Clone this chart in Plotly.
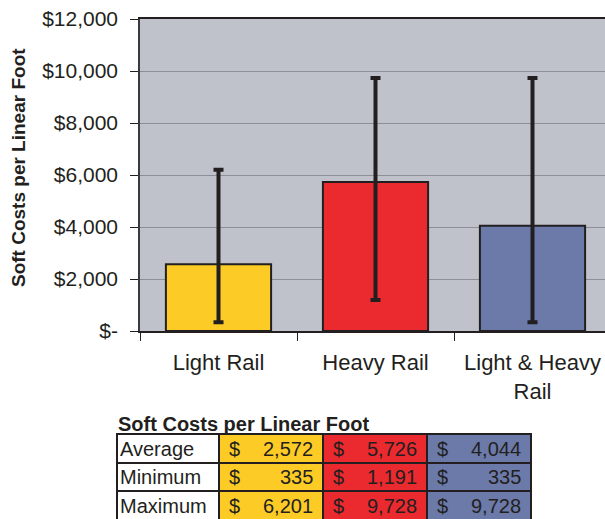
import plotly.graph_objects as go

# Data
categories = ["Light Rail", "Heavy Rail", "Light & Heavy<br>Rail"]
average = [2572, 5726, 4044]
minimum = [335, 1191, 335]
maximum = [6201, 9728, 9728]
bar_colors = ["#fdcb25", "#ea2a2f", "#6b7aa9"]

tick_vals = [0, 2000, 4000, 6000, 8000, 10000, 12000]
tick_text = ["$-", "$2,000", "$4,000", "$6,000", "$8,000", "$10,000", "$12,000"]

row_labels = ["Average", "Minimum", "Maximum"]
table_title = "Soft Costs per Linear Foot"
axis_title = "Soft Costs per Linear Foot"

# figure is a bit wider/taller than the window so the plot and table get cut
# off at the edges, like the original
W, H = 625, 530
PLOT_L, PLOT_R, PLOT_T, PLOT_B = 140, 625, 19, 331
CAT_W = 157  # px per category
DARK = "#231f20"
FONT = "Liberation Sans, Arial, sans-serif"


def px_x(x):
    # pixel -> paper coordinate
    return (x - PLOT_L) / (PLOT_R - PLOT_L)


def px_y(y):
    return (PLOT_B - y) / (PLOT_B - PLOT_T)


fig = go.Figure()

fig.add_trace(go.Bar(
    x=categories,
    y=average,
    width=0.67,
    marker=dict(color=bar_colors, line=dict(color=DARK, width=2)),
    error_y=dict(
        type="data",
        symmetric=False,
        array=[mx - a for mx, a in zip(maximum, average)],
        arrayminus=[a - mn for mn, a in zip(minimum, average)],
        color=DARK,
        thickness=4,
        width=5,
    ),
    hoverinfo="skip",
    showlegend=False,
))

# Table below the chart (cells as shapes, text as annotations)
col_edges = [117, 219, 323, 427, 531]
row_edges = [434, 463, 491, 520]
table_rows = [average, minimum, maximum]
TABLE_FONT = dict(size=20, color=DARK, family=FONT)

shapes = []
annotations = []

for r, label in enumerate(row_labels):
    y0, y1 = row_edges[r], row_edges[r + 1]
    yc = px_y((y0 + y1) / 2)
    shapes.append(dict(
        type="rect", xref="paper", yref="paper",
        x0=px_x(col_edges[0]), x1=px_x(col_edges[1]),
        y0=px_y(y1), y1=px_y(y0),
        fillcolor="white", line=dict(color=DARK, width=2), layer="above",
    ))
    annotations.append(dict(
        x=px_x(col_edges[0] + 1), y=yc, xref="paper", yref="paper",
        text=label, showarrow=False, xanchor="left", yanchor="middle",
        font=TABLE_FONT,
    ))
    for c in range(3):
        value = table_rows[r][c]
        x0, x1 = col_edges[c + 1], col_edges[c + 2]
        shapes.append(dict(
            type="rect", xref="paper", yref="paper",
            x0=px_x(x0), x1=px_x(x1),
            y0=px_y(y1), y1=px_y(y0),
            fillcolor=bar_colors[c], line=dict(color=DARK, width=2), layer="above",
        ))
        annotations.append(dict(
            x=px_x(x0 + 8), y=yc, xref="paper", yref="paper",
            text="$", showarrow=False, xanchor="left", yanchor="middle",
            font=TABLE_FONT,
        ))
        annotations.append(dict(
            x=px_x(x1 - 8), y=yc, xref="paper", yref="paper",
            text=f"{value:,}", showarrow=False, xanchor="right", yanchor="middle",
            font=TABLE_FONT,
        ))

annotations.append(dict(
    x=px_x(116), y=px_y(424), xref="paper", yref="paper",
    text=f"<b>{table_title}</b>", showarrow=False, xanchor="left", yanchor="middle",
    font=dict(size=20, color=DARK, family=FONT),
))

# y axis title
annotations.append(dict(
    x=px_x(18), y=px_y(168), xref="paper", yref="paper",
    text=f"<b>{axis_title}</b>", showarrow=False, textangle=-90,
    xanchor="center", yanchor="middle",
    font=dict(size=19, color=DARK, family=FONT),
))

fig.update_layout(
    width=W, height=H,
    margin=dict(l=PLOT_L, r=W - PLOT_R, t=PLOT_T, b=H - PLOT_B, pad=0),
    plot_bgcolor="#bfc2cb",
    paper_bgcolor="white",
    font=dict(family=FONT, color=DARK),
    xaxis=dict(
        range=[-0.5, -0.5 + (PLOT_R - PLOT_L) / CAT_W],
        showgrid=False,
        ticks="outside", tickson="boundaries", ticklen=8, tickcolor=DARK,
        showline=True, linecolor=DARK, linewidth=1.5, mirror=True,
        tickfont=dict(size=22, color=DARK),
        ticklabelstandoff=11,
        ticklabeloverflow="allow",
        fixedrange=True,
    ),
    yaxis=dict(
        range=[0, 12000],
        tickvals=tick_vals, ticktext=tick_text,
        showgrid=True, gridcolor="#8c8f97", gridwidth=1,
        zeroline=False,
        ticks="outside", ticklen=8, tickcolor=DARK,
        showline=True, linecolor="#3a3a3a", linewidth=1.5,
        tickfont=dict(size=21, color=DARK),
        ticklabelstandoff=8,
        ticklabeloverflow="allow",
        fixedrange=True,
    ),
    shapes=shapes,
    annotations=annotations,
)

# drop the default page margin and scrollbars so the figure sits at the window corner
fig.write_html(
    "out.html",
    config={"displayModeBar": False},
    post_script="document.body.style.margin='0';document.body.style.overflow='hidden';",
)
